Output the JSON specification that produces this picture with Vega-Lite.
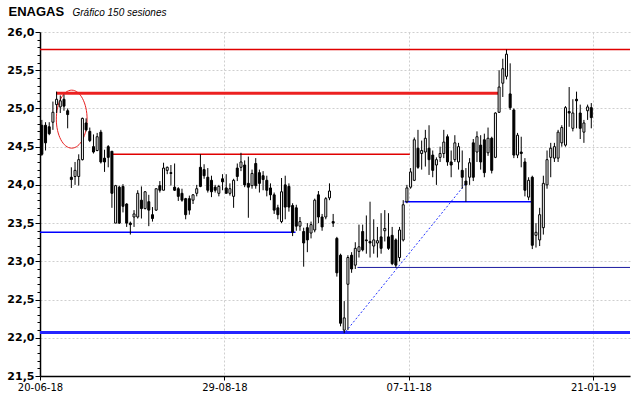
{
"$schema":"https://vega.github.io/schema/vega-lite/v6.json",
"width":590,"height":344,
"autosize":{"type":"none"},
"padding":{"left":40,"top":32,"right":10,"bottom":22},
"background":"white",
"config":{"view":{"stroke":null},"scale":{"continuousPadding":0},
 "axis":{"labelOverlap":false,"labelBound":false,"labelFlush":false,"domainColor":"black","domainWidth":1.5,"tickColor":"black","labelColor":"black","titleColor":"black","gridColor":"#cfcfcf","gridDash":[2,2]}},
"datasets":{
"candles":[
{"s":1,"o":24.78,"h":24.85,"l":24.38,"c":24.40},
{"s":2,"o":24.78,"h":24.82,"l":24.45,"c":24.55},
{"s":3,"o":24.76,"h":24.82,"l":24.65,"c":24.67},
{"s":4,"o":24.82,"h":25.09,"l":24.72,"c":24.95},
{"s":5,"o":25.05,"h":25.22,"l":24.94,"c":25.12},
{"s":6,"o":25.02,"h":25.17,"l":24.94,"c":25.10},
{"s":7,"o":25.12,"h":25.18,"l":24.97,"c":25.03},
{"s":8,"o":24.97,"h":25.00,"l":24.74,"c":24.92},
{"s":9,"o":24.10,"h":24.23,"l":23.96,"c":24.07},
{"s":10,"o":24.11,"h":24.30,"l":24.00,"c":24.19},
{"s":11,"o":24.11,"h":24.40,"l":23.99,"c":24.33},
{"s":12,"o":24.33,"h":24.88,"l":24.32,"c":24.87},
{"s":13,"o":24.81,"h":24.87,"l":24.70,"c":24.72},
{"s":14,"o":24.70,"h":24.75,"l":24.56,"c":24.58},
{"s":15,"o":24.50,"h":24.66,"l":24.41,"c":24.43},
{"s":16,"o":24.45,"h":24.68,"l":24.44,"c":24.63},
{"s":17,"o":24.69,"h":24.72,"l":24.28,"c":24.30},
{"s":18,"o":24.35,"h":24.46,"l":24.17,"c":24.30},
{"s":19,"o":24.50,"h":24.52,"l":24.23,"c":24.36},
{"s":20,"o":24.44,"h":24.44,"l":23.70,"c":23.89},
{"s":21,"o":23.50,"h":24.00,"l":23.50,"c":23.99},
{"s":22,"o":23.97,"h":23.99,"l":23.49,"c":23.50},
{"s":23,"o":23.98,"h":24.01,"l":23.64,"c":23.72},
{"s":24,"o":23.75,"h":23.76,"l":23.45,"c":23.50},
{"s":25,"o":23.50,"h":23.52,"l":23.35,"c":23.48},
{"s":26,"o":23.58,"h":23.67,"l":23.45,"c":23.62},
{"s":27,"o":23.58,"h":23.93,"l":23.56,"c":23.89},
{"s":28,"o":23.80,"h":23.98,"l":23.56,"c":23.69},
{"s":29,"o":23.69,"h":23.92,"l":23.68,"c":23.91},
{"s":30,"o":23.78,"h":23.87,"l":23.46,"c":23.67},
{"s":31,"o":23.61,"h":23.71,"l":23.52,"c":23.56},
{"s":32,"o":23.67,"h":23.95,"l":23.66,"c":23.95},
{"s":33,"o":23.99,"h":24.05,"l":23.90,"c":23.93},
{"s":34,"o":23.93,"h":24.29,"l":23.93,"c":24.22},
{"s":35,"o":24.19,"h":24.24,"l":24.14,"c":24.23},
{"s":36,"o":24.16,"h":24.26,"l":23.99,"c":24.15},
{"s":37,"o":23.97,"h":24.28,"l":23.92,"c":23.93},
{"s":38,"o":23.95,"h":23.97,"l":23.79,"c":23.85},
{"s":39,"o":23.89,"h":23.95,"l":23.78,"c":23.80},
{"s":40,"o":23.82,"h":23.83,"l":23.55,"c":23.61},
{"s":41,"o":23.82,"h":23.86,"l":23.61,"c":23.67},
{"s":42,"o":23.80,"h":23.88,"l":23.75,"c":23.87},
{"s":43,"o":23.89,"h":24.00,"l":23.85,"c":23.95},
{"s":44,"o":24.23,"h":24.40,"l":23.97,"c":23.98},
{"s":45,"o":24.20,"h":24.27,"l":24.08,"c":24.12},
{"s":46,"o":24.10,"h":24.22,"l":23.90,"c":23.93},
{"s":47,"o":24.06,"h":24.12,"l":23.84,"c":23.91},
{"s":48,"o":23.97,"h":24.00,"l":23.90,"c":23.93},
{"s":49,"o":23.89,"h":24.00,"l":23.85,"c":23.98},
{"s":50,"o":24.08,"h":24.14,"l":23.93,"c":24.04},
{"s":51,"o":23.96,"h":24.14,"l":23.89,"c":23.89},
{"s":52,"o":23.89,"h":24.02,"l":23.86,"c":23.95},
{"s":53,"o":23.85,"h":24.08,"l":23.70,"c":24.06},
{"s":54,"o":24.22,"h":24.28,"l":24.05,"c":24.11},
{"s":55,"o":24.23,"h":24.42,"l":24.18,"c":24.30},
{"s":56,"o":24.26,"h":24.32,"l":23.97,"c":24.00},
{"s":57,"o":24.02,"h":24.37,"l":23.57,"c":23.97},
{"s":58,"o":23.99,"h":24.20,"l":23.95,"c":24.15},
{"s":59,"o":24.28,"h":24.35,"l":23.95,"c":23.99},
{"s":60,"o":24.16,"h":24.20,"l":23.90,"c":24.02},
{"s":61,"o":24.12,"h":24.18,"l":23.93,"c":24.07},
{"s":62,"o":24.06,"h":24.12,"l":23.85,"c":23.93},
{"s":63,"o":23.96,"h":24.02,"l":23.80,"c":23.87},
{"s":64,"o":23.87,"h":23.90,"l":23.62,"c":23.67},
{"s":65,"o":23.70,"h":23.74,"l":23.55,"c":23.61},
{"s":66,"o":23.52,"h":24.09,"l":23.50,"c":23.91},
{"s":67,"o":24.00,"h":24.12,"l":23.55,"c":23.71},
{"s":68,"o":23.98,"h":24.02,"l":23.65,"c":23.71},
{"s":69,"o":23.73,"h":23.76,"l":23.33,"c":23.38},
{"s":70,"o":23.70,"h":23.74,"l":23.40,"c":23.46},
{"s":71,"o":23.46,"h":23.58,"l":23.40,"c":23.52},
{"s":72,"o":23.39,"h":23.44,"l":22.93,"c":23.24},
{"s":73,"o":23.44,"h":23.50,"l":23.12,"c":23.28},
{"s":74,"o":23.37,"h":23.52,"l":23.30,"c":23.48},
{"s":75,"o":23.41,"h":23.82,"l":23.38,"c":23.80},
{"s":76,"o":23.87,"h":23.92,"l":23.50,"c":23.58},
{"s":77,"o":23.58,"h":23.62,"l":23.40,"c":23.45},
{"s":78,"o":23.58,"h":23.84,"l":23.55,"c":23.82},
{"s":79,"o":23.83,"h":24.02,"l":23.80,"c":23.92},
{"s":80,"o":23.52,"h":23.62,"l":23.45,"c":23.50},
{"s":81,"o":23.30,"h":23.32,"l":22.80,"c":22.85},
{"s":82,"o":23.08,"h":23.10,"l":22.15,"c":22.19},
{"s":83,"o":22.10,"h":22.48,"l":22.06,"c":22.26},
{"s":84,"o":22.70,"h":23.08,"l":22.10,"c":23.05},
{"s":85,"o":23.08,"h":23.12,"l":22.85,"c":22.90},
{"s":86,"o":22.95,"h":23.25,"l":22.90,"c":23.17},
{"s":87,"o":23.13,"h":23.48,"l":23.05,"c":23.19},
{"s":88,"o":23.39,"h":23.48,"l":23.13,"c":23.15},
{"s":89,"o":23.28,"h":23.60,"l":23.10,"c":23.27},
{"s":90,"o":23.26,"h":23.78,"l":23.05,"c":23.24},
{"s":91,"o":23.20,"h":23.55,"l":23.10,"c":23.28},
{"s":92,"o":23.24,"h":23.45,"l":23.05,"c":23.27},
{"s":93,"o":23.32,"h":23.63,"l":23.10,"c":23.17},
{"s":94,"o":23.40,"h":23.67,"l":23.26,"c":23.43},
{"s":95,"o":23.32,"h":23.63,"l":23.15,"c":23.17},
{"s":96,"o":23.34,"h":23.45,"l":22.95,"c":22.97},
{"s":97,"o":23.28,"h":23.30,"l":22.92,"c":22.95},
{"s":98,"o":23.05,"h":23.45,"l":23.00,"c":23.41},
{"s":99,"o":23.28,"h":23.80,"l":23.26,"c":23.74},
{"s":100,"o":23.78,"h":24.00,"l":23.76,"c":23.96},
{"s":101,"o":23.97,"h":24.22,"l":23.95,"c":24.17},
{"s":102,"o":24.06,"h":24.62,"l":24.05,"c":24.59},
{"s":103,"o":24.48,"h":24.72,"l":24.21,"c":24.23},
{"s":104,"o":24.41,"h":24.58,"l":24.20,"c":24.45},
{"s":105,"o":24.43,"h":24.72,"l":24.24,"c":24.61},
{"s":106,"o":24.48,"h":24.78,"l":24.13,"c":24.33},
{"s":107,"o":24.39,"h":24.45,"l":24.10,"c":24.19},
{"s":108,"o":24.26,"h":24.36,"l":24.00,"c":24.33},
{"s":109,"o":24.36,"h":24.50,"l":24.30,"c":24.41},
{"s":110,"o":24.41,"h":24.72,"l":24.35,"c":24.56},
{"s":111,"o":24.63,"h":24.66,"l":24.25,"c":24.30},
{"s":112,"o":24.30,"h":24.45,"l":24.10,"c":24.26},
{"s":113,"o":24.33,"h":24.65,"l":24.30,"c":24.55},
{"s":114,"o":24.30,"h":24.55,"l":24.20,"c":24.50},
{"s":115,"o":24.19,"h":24.45,"l":23.95,"c":24.10},
{"s":116,"o":24.05,"h":24.22,"l":23.78,"c":24.00},
{"s":117,"o":24.10,"h":24.35,"l":24.00,"c":24.29},
{"s":118,"o":24.55,"h":24.60,"l":24.05,"c":24.10},
{"s":119,"o":24.43,"h":24.70,"l":24.30,"c":24.63},
{"s":120,"o":24.52,"h":24.65,"l":24.20,"c":24.30},
{"s":121,"o":24.59,"h":24.67,"l":24.10,"c":24.16},
{"s":122,"o":24.42,"h":24.75,"l":24.38,"c":24.61},
{"s":123,"o":24.61,"h":24.63,"l":24.15,"c":24.19},
{"s":124,"o":24.36,"h":24.95,"l":24.35,"c":24.94},
{"s":125,"o":24.95,"h":25.50,"l":24.94,"c":25.28},
{"s":126,"o":25.33,"h":25.65,"l":25.15,"c":25.52},
{"s":127,"o":25.42,"h":25.77,"l":25.38,"c":25.71},
{"s":128,"o":25.19,"h":25.59,"l":24.98,"c":25.01},
{"s":129,"o":24.98,"h":25.00,"l":24.35,"c":24.39},
{"s":130,"o":24.39,"h":24.68,"l":24.35,"c":24.65},
{"s":131,"o":24.43,"h":24.63,"l":24.23,"c":24.41},
{"s":132,"o":24.30,"h":24.35,"l":23.85,"c":23.93},
{"s":133,"o":23.84,"h":24.10,"l":23.80,"c":24.06},
{"s":134,"o":24.10,"h":24.12,"l":23.16,"c":23.21},
{"s":135,"o":23.34,"h":23.50,"l":23.18,"c":23.38},
{"s":136,"o":23.28,"h":23.70,"l":23.20,"c":23.61},
{"s":137,"o":23.44,"h":24.12,"l":23.35,"c":24.02},
{"s":138,"o":24.00,"h":24.45,"l":23.95,"c":24.33},
{"s":139,"o":24.36,"h":24.55,"l":24.10,"c":24.48},
{"s":140,"o":24.35,"h":24.55,"l":24.30,"c":24.50},
{"s":141,"o":24.35,"h":24.72,"l":24.30,"c":24.69},
{"s":142,"o":24.55,"h":24.78,"l":24.50,"c":24.75},
{"s":143,"o":24.52,"h":25.03,"l":24.50,"c":25.01},
{"s":144,"o":24.96,"h":25.28,"l":24.76,"c":24.94},
{"s":145,"o":24.74,"h":25.12,"l":24.70,"c":24.94},
{"s":146,"o":25.12,"h":25.22,"l":24.74,"c":25.10},
{"s":147,"o":24.94,"h":25.05,"l":24.60,"c":24.74},
{"s":148,"o":24.69,"h":24.85,"l":24.55,"c":24.81},
{"s":149,"o":24.97,"h":25.05,"l":24.85,"c":25.02},
{"s":150,"o":25.01,"h":25.07,"l":24.74,"c":24.88}
]
},
"layer":[
{
"data":{"values":[{"x1":0.5,"x2":160.5,"p":22.07}]},
"mark":{"type":"rule","color":"#2424ff","strokeWidth":3},
"encoding":{
"x":{"field":"x1","type":"quantitative","scale":{"domain":[0.5,160.5],"nice":false,"zero":false,"padding":0},
 "axis":{"values":[0.5,50.5,100.5,150.5],"tickCount":20,
  "labelExpr":"datum.value < 1 ? '20-06-18' : datum.value < 51 ? '29-08-18' : datum.value < 101 ? '07-11-18' : '21-01-19'",
  "title":"Gráfico 150 sesiones","titleX":32,"titleY":-361,"titleAlign":"left","titleBaseline":"alphabetic","titleAngle":0,
  "titleFont":"Liberation Sans","titleFontSize":10,"titleFontStyle":"italic","titleFontWeight":"normal",
  "grid":true,"tickSize":4,
  "labelFont":"DejaVu Sans","labelFontSize":10,"labelPadding":2}},
"x2":{"field":"x2"},
"y":{"field":"p","type":"quantitative","scale":{"domain":[21.5,26],"nice":false,"zero":false,"padding":0},
 "axis":{"values":[21.5,21.6,21.7,21.8,21.9,22.0,22.1,22.2,22.3,22.4,22.5,22.6,22.7,22.8,22.9,23.0,23.1,23.2,23.3,23.4,23.5,23.6,23.7,23.8,23.9,24.0,24.1,24.2,24.3,24.4,24.5,24.6,24.7,24.8,24.9,25.0,25.1,25.2,25.3,25.4,25.5,25.6,25.7,25.8,25.9,26.0],
  "tickCount":100,
  "labelExpr":"round(datum.value*10) % 5 == 0 ? replace(format(datum.value, '.1f'), '.', ',') : ''",
  "title":"ENAGAS","titleAngle":0,"titleX":-32,"titleY":-17,"titleAlign":"left","titleBaseline":"alphabetic",
  "titleFont":"Liberation Sans","titleFontSize":13,"titleFontWeight":"bold",
  "grid":true,
  "gridOpacity":{"condition":{"test":"round(datum.value*10) % 5 == 0","value":1},"value":0},
  "tickSize":{"condition":{"test":"round(datum.value*10) % 5 == 0","value":5},"value":3},
  "labelFont":"DejaVu Sans","labelFontSize":11,"labelFontWeight":"bold","labelPadding":1}}
}
},
{
"data":{"values":[{"x1":4.85,"x2":124.7,"p":25.2}]},
"mark":{"type":"rule","color":"#ec2020","strokeWidth":3},
"encoding":{"x":{"field":"x1","type":"quantitative"},"x2":{"field":"x2"},
"y":{"field":"p","type":"quantitative"}}
},
{
"data":{"values":[{"x1":0.5,"x2":160.5,"p":25.77},{"x1":20.1,"x2":100.8,"p":24.4}]},
"mark":{"type":"rule","color":"#e00000","strokeWidth":1.5},
"encoding":{"x":{"field":"x1","type":"quantitative"},"x2":{"field":"x2"},
"y":{"field":"p","type":"quantitative"}}
},
{
"data":{"values":[{"x1":0.5,"x2":69.8,"p":23.38},{"x1":99.4,"x2":133.7,"p":23.78}]},
"mark":{"type":"rule","color":"#0000ff","strokeWidth":1.5},
"encoding":{"x":{"field":"x1","type":"quantitative"},"x2":{"field":"x2"},
"y":{"field":"p","type":"quantitative"}}
},
{
"data":{"values":[{"x1":86.6,"x2":160.5,"p":22.92}]},
"mark":{"type":"rule","color":"#1c1ca0","strokeWidth":1},
"encoding":{"x":{"field":"x1","type":"quantitative"},"x2":{"field":"x2"},
"y":{"field":"p","type":"quantitative"}}
},
{
"data":{"values":[{"s":83.4,"p":22.08},{"s":116.0,"p":24.02}]},
"mark":{"type":"line","color":"#2233ff","strokeWidth":1,"strokeDash":[2,2]},
"encoding":{"x":{"field":"s","type":"quantitative"},
"y":{"field":"p","type":"quantitative"}}
},
{
"data":{"values":[{"s":9.1,"p":24.86}]},
"mark":{"type":"point","shape":"M 0,-1 C 0.293,-1 0.53,-0.552 0.53,0 C 0.53,0.552 0.293,1 0,1 C -0.293,1 -0.53,0.552 -0.53,0 C -0.53,-0.552 -0.293,-1 0,-1 Z","size":3364,"filled":false,"stroke":"#e82020","strokeWidth":1,"opacity":1},
"encoding":{"x":{"field":"s","type":"quantitative"},
"y":{"field":"p","type":"quantitative"}}
},
{
"data":{"name":"candles"},
"mark":{"type":"rule","color":"black","strokeWidth":1},
"encoding":{"x":{"field":"s","type":"quantitative"},
"y":{"field":"l","type":"quantitative"},
"y2":{"field":"h"}}
},
{
"data":{"name":"candles"},
"mark":{"type":"bar","size":2,"stroke":"black","strokeWidth":1},
"encoding":{"x":{"field":"s","type":"quantitative"},
"y":{"field":"o","type":"quantitative"},
"y2":{"field":"c"},
"fill":{"condition":{"test":"datum.c >= datum.o","value":"white"},"value":"black"}}
}
]
}
